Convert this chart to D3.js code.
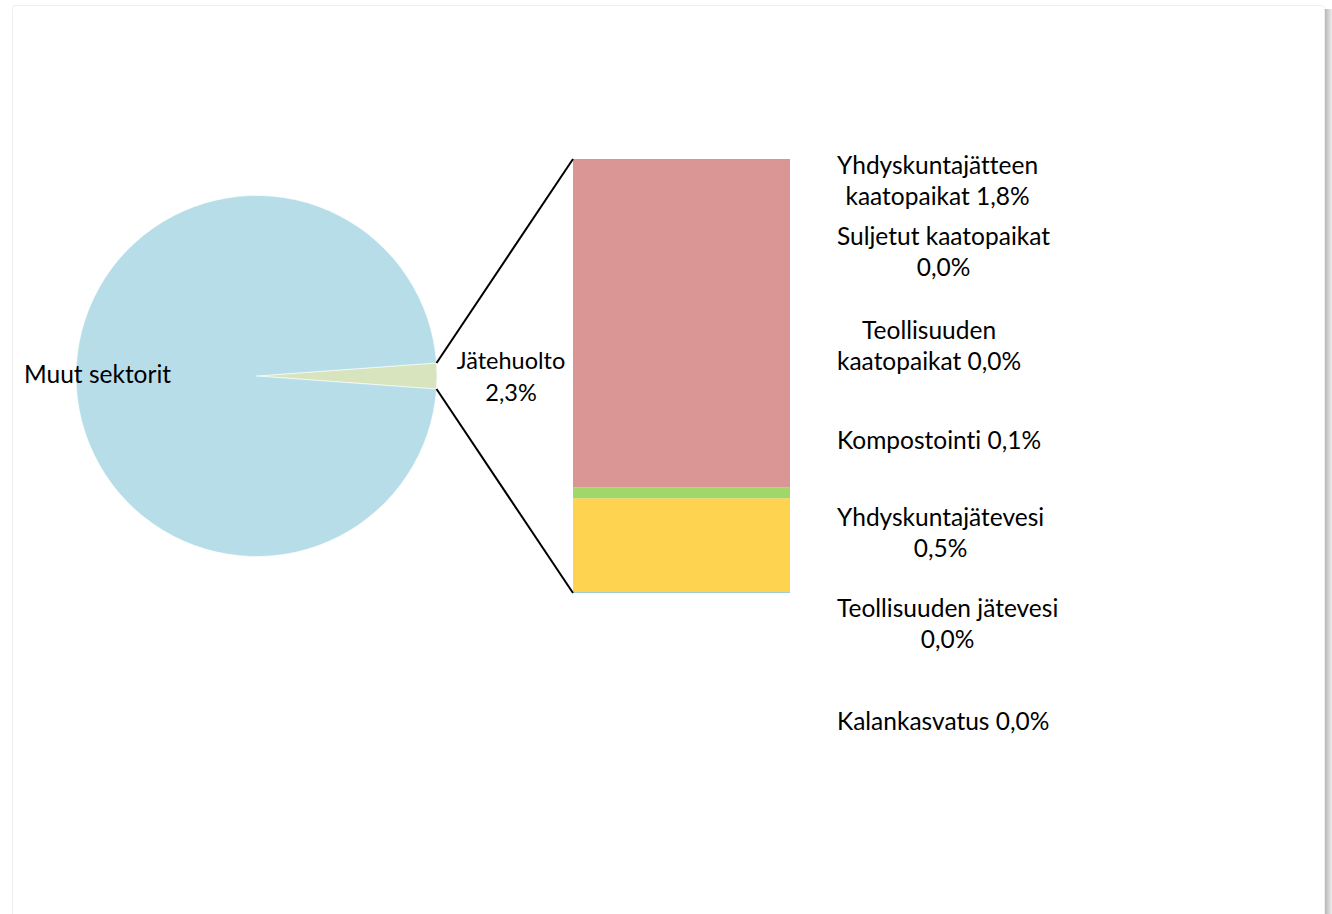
<!DOCTYPE html>
<html>
<head>
<meta charset="utf-8">
<script src="https://cdn.jsdelivr.net/npm/d3@7"></script>
<style>
  html, body { margin: 0; padding: 0; background: #ffffff; }
  svg { display: block; }
  text { font-family: Lato, "Open Sans", sans-serif; fill: #000; font-variant-ligatures: none; }
</style>
</head>
<body>
<script>
// ---- data ----
const pieCategories = ["Jätehuolto", "Muut sektorit"];
const pieValues = [2.3, 97.7];
const pieLabelText = ["Jätehuolto\n2,3%", "Muut sektorit"];

// bar segments, listed top to bottom
const barCategories = [
  "Yhdyskuntajätteen kaatopaikat",
  "Suljetut kaatopaikat",
  "Teollisuuden kaatopaikat",
  "Kompostointi",
  "Yhdyskuntajätevesi",
  "Teollisuuden jätevesi",
  "Kalankasvatus"
];
const barValues = [1.74, 0.0, 0.0, 0.058, 0.497, 0.0, 0.005];
const barLabelText = [
  "Yhdyskuntajätteen\nkaatopaikat 1,8%",
  "Suljetut kaatopaikat\n0,0%",
  "Teollisuuden\nkaatopaikat 0,0%",
  "Kompostointi 0,1%",
  "Yhdyskuntajätevesi\n0,5%",
  "Teollisuuden jätevesi\n0,0%",
  "Kalankasvatus 0,0%"
];

// ---- styling / layout ----
const pieColors = ["#d7e4bd", "#b7dde8"];
const barColors = ["#d99694", "#c3d69b", "#b3a2c7", "#a0d66a", "#fed34f", "#f9b47a", "#93cddd"];
const labelMidBaselines = [189.5, 260.5, 354.5, 449, 541.5, 632.5, 730];

const W = 1332, H = 914;
const svg = d3.select("body").append("svg").attr("width", W).attr("height", H);

// chart frame with soft shadow on the right
const defs = svg.append("defs");
const grad = defs.append("linearGradient").attr("id", "shadowR").attr("x1", 0).attr("x2", 1).attr("y1", 0).attr("y2", 0);
grad.append("stop").attr("offset", 0).attr("stop-color", "#b8b8b8");
grad.append("stop").attr("offset", 1).attr("stop-color", "#ececec");
svg.append("rect").attr("x", 1325).attr("y", 9).attr("width", 7).attr("height", H).attr("fill", "url(#shadowR)");
svg.append("rect").attr("x", 12.5).attr("y", 5.5).attr("width", 1312).attr("height", H + 10)
  .attr("rx", 3).attr("fill", "#fff").attr("stroke", "#eeeeee").attr("stroke-width", 1);

const fontSize = 24.5;
const lineH = 31.5;

// ---- pie ----
const cx = 256.5, cy = 376, R = 180.5;
const firstFrac = pieValues[0] / d3.sum(pieValues);
const start = Math.PI / 2 - firstFrac * Math.PI;
const pie = d3.pie().sort(null).value(d => d).startAngle(start).endAngle(start + 2 * Math.PI);
const arcs = pie(pieValues);
const arc = d3.arc().innerRadius(0).outerRadius(R);
const gPie = svg.append("g").attr("transform", `translate(${cx},${cy})`);
gPie.selectAll("path").data(arcs).join("path")
  .attr("d", arc).attr("fill", (d, i) => pieColors[i])
  .attr("stroke", "#ffffff").attr("stroke-width", 0.6);

// ---- bar ----
const barX0 = 573, barX1 = 790, barTop = 159, barBottom = 593;
const total = d3.sum(barValues);
const y = d3.scaleLinear().domain([0, total]).range([barBottom, barTop]);
// stack from bottom (last) to top (first)
let cum = 0;
const segs = [];
for (let i = barValues.length - 1; i >= 0; i--) {
  segs.push({ i, y0: cum, y1: cum + barValues[i] });
  cum += barValues[i];
}
svg.append("g").selectAll("rect").data(segs).join("rect")
  .attr("x", barX0).attr("width", barX1 - barX0)
  .attr("y", d => y(d.y1)).attr("height", d => y(d.y0) - y(d.y1))
  .attr("fill", d => barColors[d.i]);

// ---- connector lines ----
const a0 = arcs[0].startAngle, a1 = arcs[0].endAngle;
const p0 = [cx + R * Math.sin(a0), cy - R * Math.cos(a0)];
const p1 = [cx + R * Math.sin(a1), cy - R * Math.cos(a1)];
svg.append("line").attr("x1", p0[0]).attr("y1", p0[1]).attr("x2", barX0).attr("y2", y(total))
  .attr("stroke", "#000").attr("stroke-width", 2);
svg.append("line").attr("x1", p1[0]).attr("y1", p1[1]).attr("x2", barX0).attr("y2", y(0))
  .attr("stroke", "#000").attr("stroke-width", 2);

// ---- helper for centered multi-line block ----
function block(x, midBaseline, txt, anchorLeft, fs) {
  const lines = txt.split("\n");
  const g = svg.append("g");
  const first = midBaseline - (lines.length - 1) * lineH / 2;
  const ts = lines.map((l, k) => g.append("text")
    .attr("y", first + k * lineH).attr("font-size", fs).text(l));
  const widths = ts.map(t => t.node().getComputedTextLength());
  const mw = d3.max(widths);
  const center = anchorLeft ? x + mw / 2 : x;
  ts.forEach(t => t.attr("x", center).attr("text-anchor", "middle"));
}

// pie labels
block(511, 385, pieLabelText[0], false, 23.5);
svg.append("text").attr("x", 24).attr("y", 383).attr("font-size", fontSize).text(pieLabelText[1]);

// bar labels
barLabelText.forEach((t, i) => block(837, labelMidBaselines[i], t, true, fontSize));
</script>
</body>
</html>
